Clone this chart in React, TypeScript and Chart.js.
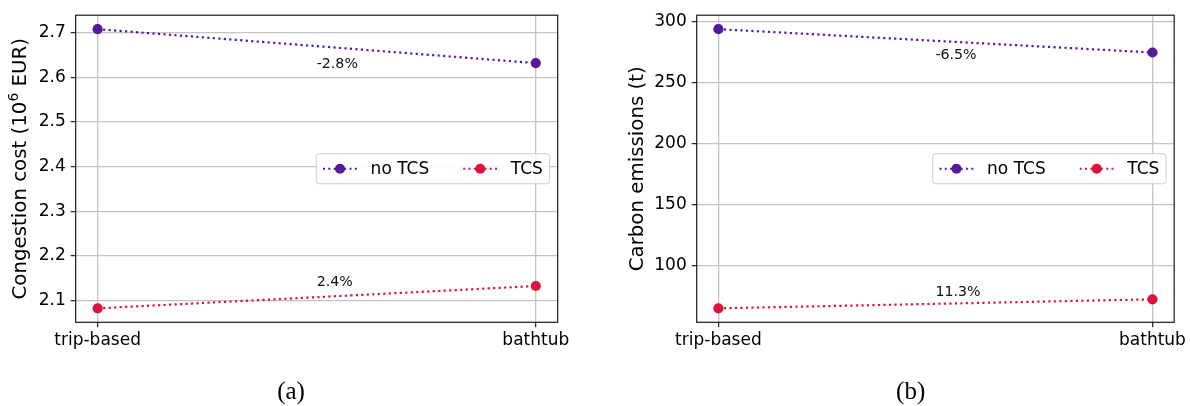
import React, { useEffect, useRef } from 'react';
import { Chart, registerables } from 'chart.js';

Chart.register(...registerables);

// ---------- data ----------
const categories = ['trip-based', 'bathtub'];
const seriesNames = ['no TCS', 'TCS'];
const seriesColors = ['#56189c', '#dc143c'];

const costNoTCS = [2.708, 2.632];
const costTCS = [2.083, 2.133];
const costChange = ['-2.8%', '2.4%'];
const costTicks = [2.1, 2.2, 2.3, 2.4, 2.5, 2.6, 2.7];

const emisNoTCS = [293.8, 274.7];
const emisTCS = [65.2, 72.6];
const emisChange = ['-6.5%', '11.3%'];
const emisTicks = [100, 150, 200, 250, 300];

// ---------- style ----------
const FONT = '"DejaVu Sans", sans-serif';
const SERIF = '"Liberation Serif", "Times New Roman", serif';
const TICK_SIZE = 17;
const TITLE_SIZE = 19.8;
const LEGEND_SIZE = 17;
const ANNOT_SIZE = 14.2;
const CAPTION_SIZE = 25;
const CANVAS_W = 595;
const CANVAS_H = 406;
const POINT_R = 5.1;

type Panel = {
  left: number;
  area: { left: number; right: number; top: number; bottom: number };
  series: number[][];
  changes: string[];
  changeOffsets: number[];
  ticks: number[];
  decimals: number;
  titleParts: [string, boolean][];
  titleX: number;
  caption: string;
  captionX: number;
};

const panels: Panel[] = [
  {
    left: 0,
    area: { left: 75.7, right: 557.7, top: 10, bottom: 322.3 },
    series: [costNoTCS, costTCS],
    changes: costChange,
    changeOffsets: [18.3, -14.4],
    ticks: costTicks,
    decimals: 1,
    titleParts: [['Congestion cost (10', false], ['6', true], [' EUR)', false]],
    titleX: 26,
    caption: '(a)',
    captionX: 291,
  },
  {
    left: 595,
    area: { left: 101.7, right: 582, top: 11.7, bottom: 322.3 },
    series: [emisNoTCS, emisTCS],
    changes: emisChange,
    changeOffsets: [14.2, -11.2],
    ticks: emisTicks,
    decimals: 0,
    titleParts: [['Carbon emissions (t)', false]],
    titleX: 643.4 - 595,
    caption: '(b)',
    captionX: 910.7 - 595,
  },
];

function PanelChart({ p }: { p: Panel }) {
  const ref = useRef<HTMLCanvasElement | null>(null);
  useEffect(() => {
    const canvas = ref.current;
    if (!canvas) return;
    const all = p.series.flat();
    const lo = Math.min(...all);
    const hi = Math.max(...all);
    const m = (hi - lo) * 0.05;
    const area = p.area;

    const decor = {
      id: 'decor',
      afterDatasetsDraw(chart: any) {
        const ctx = chart.ctx as CanvasRenderingContext2D;
        const xs = chart.scales.x;
        const ys = chart.scales.y;
        const ca = chart.chartArea;
        // percentage annotations
        ctx.save();
        ctx.font = `${ANNOT_SIZE}px ${FONT}`;
        ctx.fillStyle = '#111';
        ctx.textAlign = 'left';
        ctx.textBaseline = 'middle';
        p.series.forEach((vals, i) => {
          const yMid = (ys.getPixelForValue(vals[0]) + ys.getPixelForValue(vals[1])) / 2;
          ctx.fillText(p.changes[i], xs.getPixelForValue(0.5), yMid + p.changeOffsets[i]);
        });
        ctx.restore();
        // frame
        ctx.save();
        ctx.strokeStyle = '#1a1a1a';
        ctx.lineWidth = 1.2;
        ctx.strokeRect(ca.left, ca.top, ca.right - ca.left, ca.bottom - ca.top);
        ctx.restore();
        // legend
        ctx.save();
        const fs = LEGEND_SIZE;
        ctx.font = `${fs}px ${FONT}`;
        const pad = 0.4 * fs;
        const handle = 2 * fs;
        const tPad = 0.8 * fs;
        const colSp = 2 * fs;
        const widths = seriesNames.map((n) => ctx.measureText(n).width);
        const totalW = pad * 2 + widths.reduce((a, b) => a + b, 0) + seriesNames.length * (handle + tPad) + colSp * (seriesNames.length - 1);
        const h = 30;
        const bx = ca.right - 8 - totalW;
        const cy = (ca.top + ca.bottom) / 2;
        const by = cy - h / 2;
        ctx.beginPath();
        (ctx as any).roundRect(bx, by, totalW, h, 3);
        ctx.fillStyle = 'rgba(255,255,255,0.85)';
        ctx.fill();
        ctx.strokeStyle = '#cccccc';
        ctx.lineWidth = 1;
        ctx.stroke();
        let x = bx + pad;
        seriesNames.forEach((n, i) => {
          ctx.strokeStyle = seriesColors[i];
          ctx.lineWidth = 2;
          ctx.setLineDash([2, 3.3]);
          ctx.beginPath();
          ctx.moveTo(x, cy);
          ctx.lineTo(x + handle, cy);
          ctx.stroke();
          ctx.setLineDash([]);
          ctx.fillStyle = seriesColors[i];
          ctx.beginPath();
          ctx.arc(x + handle / 2, cy, POINT_R, 0, Math.PI * 2);
          ctx.fill();
          ctx.fillStyle = '#000';
          ctx.textAlign = 'left';
          ctx.textBaseline = 'middle';
          ctx.fillText(n, x + handle + tPad, cy + 0.5);
          x += handle + tPad + widths[i] + colSp;
        });
        ctx.restore();
      },
      afterDraw(chart: any) {
        const ctx = chart.ctx as CanvasRenderingContext2D;
        const ca = chart.chartArea;
        // y-axis title
        ctx.save();
        ctx.translate(p.titleX, (ca.top + ca.bottom) / 2);
        ctx.rotate(-Math.PI / 2);
        ctx.fillStyle = '#000';
        ctx.textBaseline = 'alphabetic';
        ctx.textAlign = 'left';
        const parts = p.titleParts.map(([t, sup]) => {
          const size = sup ? TITLE_SIZE * 0.7 : TITLE_SIZE;
          ctx.font = `${size}px ${FONT}`;
          return { t, sup, size, w: ctx.measureText(t).width };
        });
        const total = parts.reduce((a, b) => a + b.w, 0);
        let tx = -total / 2;
        parts.forEach((pt) => {
          ctx.font = `${pt.size}px ${FONT}`;
          ctx.fillText(pt.t, tx, pt.sup ? -TITLE_SIZE * 0.42 : 0);
          tx += pt.w;
        });
        ctx.restore();
        // caption
        ctx.save();
        ctx.font = `${CAPTION_SIZE}px ${SERIF}`;
        ctx.fillStyle = '#000';
        ctx.textAlign = 'center';
        ctx.textBaseline = 'alphabetic';
        ctx.fillText(p.caption, p.captionX, 398.6);
        ctx.restore();
      },
    };

    const gridOpts = {
      color: '#c4c4c4',
      lineWidth: 1.3,
      tickColor: '#222',
      tickLength: 5,
      tickWidth: 1.2,
      drawTicks: true,
    };

    const chart = new Chart(canvas, {
      type: 'line',
      data: {
        datasets: p.series.map((vals, i) => ({
          label: seriesNames[i],
          data: vals.map((v, j) => ({ x: j, y: v })),
          borderColor: seriesColors[i],
          backgroundColor: seriesColors[i],
          borderWidth: 2.2,
          borderDash: [2.2, 3.3],
          pointRadius: POINT_R,
          pointBorderWidth: 0,
          pointBackgroundColor: seriesColors[i],
          tension: 0,
          fill: false,
        })),
      },
      options: {
        animation: false,
        responsive: false,
        maintainAspectRatio: false,
        devicePixelRatio: 1,
        layout: {
          padding: { left: 0, top: area.top, right: CANVAS_W - area.right, bottom: 0 },
          autoPadding: false,
        } as any,
        plugins: { legend: { display: false }, tooltip: { enabled: false } },
        scales: {
          x: {
            type: 'linear',
            min: -0.05,
            max: 1.05,
            afterBuildTicks: (s: any) => {
              s.ticks = categories.map((_, i) => ({ value: i }));
            },
            afterFit: (s: any) => {
              s.height = CANVAS_H - area.bottom;
            },
            ticks: {
              callback: (v: any) => categories[Math.round(Number(v))] ?? '',
              font: { family: FONT, size: TICK_SIZE },
              color: '#000',
              padding: 3.5,
              maxRotation: 0,
              autoSkip: false,
            },
            grid: gridOpts,
            border: { display: false },
          },
          y: {
            type: 'linear',
            min: lo - m,
            max: hi + m,
            afterBuildTicks: (s: any) => {
              s.ticks = p.ticks.map((v) => ({ value: v }));
            },
            afterFit: (s: any) => {
              s.width = area.left;
            },
            ticks: {
              callback: (v: any) => Number(v).toFixed(p.decimals),
              font: { family: FONT, size: TICK_SIZE },
              color: '#000',
              padding: 5,
              autoSkip: false,
            },
            grid: gridOpts,
            border: { display: false },
          },
        },
      } as any,
      plugins: [decor],
    });
    return () => chart.destroy();
  }, [p]);

  return (
    <canvas
      ref={ref}
      width={CANVAS_W}
      height={CANVAS_H}
      style={{ position: 'absolute', left: p.left, top: 0, width: CANVAS_W, height: CANVAS_H }}
    />
  );
}

export default function App() {
  return (
    <div style={{ position: 'absolute', left: 0, top: 0, width: 1190, height: 406, background: '#fff', overflow: 'hidden' }}>
      {panels.map((p) => (
        <PanelChart key={p.caption} p={p} />
      ))}
    </div>
  );
}
